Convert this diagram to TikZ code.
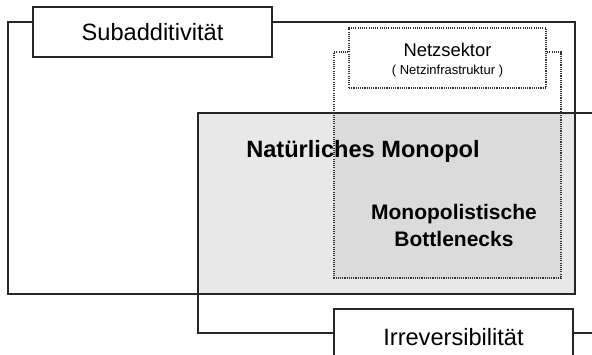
\documentclass[tikz,border=0pt]{standalone}
\usepackage{fontspec}
\setmainfont{Liberation Sans}
\begin{document}
\begin{tikzpicture}[x=1pt,y=-1pt,
  frameline/.style={line width=1.3pt,draw=black!85},
  dotline/.style={line width=1.2pt,draw=black!80,dash pattern=on 1.1pt off 1.1pt},
  labelbox/.style={draw=black!85,line width=1.3pt,fill=white,minimum width=239pt,inner sep=0pt,text=black},
  netzbox/.style={draw=black!80,line width=1.2pt,dash pattern=on 1.1pt off 1.1pt,fill=white,minimum width=197pt,minimum height=60pt,inner sep=0pt},
  bigtxt/.style={font=\fontsize{23.6}{28}\selectfont},
  boldtxt/.style={font=\bfseries\fontsize{23.6}{28}\selectfont},
  midbold/.style={font=\bfseries\fontsize{21}{27}\selectfont,align=center},
]
\useasboundingbox (0,0) rectangle (592,355);
\clip (0,0) rectangle (592,355);
% fills
\fill[black!9] (198,113) rectangle (575,294);
\fill[black!14] (334,113) rectangle (561,278);
% label nodes
\node[labelbox,minimum height=50pt,bigtxt] (sub) at (152.5,32) {Subadditivität};
\node[netzbox] (netz) at (447.5,58) {};
\node[font=\fontsize{18.4}{20}\selectfont] (netzt) at (447.5,50) {Netzsektor};
\node[font=\fontsize{13}{15}\selectfont] (netzs) at (447.5,71) {( Netzinfrastruktur )};
\node[labelbox,minimum height=56pt,bigtxt] (irr) at (453.5,337) {Irreversibilität};
\node[boldtxt] (nm) at (363,151) {Natürliches Monopol};
\node[midbold] (mb) at (454,225) {Monopolistische\\Bottlenecks};
% coordinates of frames
\coordinate (subL) at (8,22);
\coordinate (subBL) at (8,294);
\coordinate (subBR) at (575,294);
\coordinate (subR) at (575,22);
\coordinate (netzL) at (334,52);
\coordinate (netzBL) at (334,278);
\coordinate (netzBR) at (561,278);
\coordinate (netzR) at (561,52);
\coordinate (irrTL) at (198,113);
\coordinate (irrTR) at (600,113);
\coordinate (irrBL) at (198,333);
\coordinate (irrBR) at (600,333);
% Subadditivität frame
\draw[frameline] (sub.west |- subL) -- (subL) -- (subBL) -- (subBR) -- (subR) -- (sub.east |- subR);
% Irreversibilität frame
\draw[frameline] (irr.west |- irrBL) -- (irrBL) -- (irrTL) -- (irrTR);
\draw[frameline] (irr.east |- irrBR) -- (irrBR);
% Netzsektor frame
\draw[dotline] (netz.west |- netzL) -- (netzL) -- (netzBL) -- (netzBR) -- (netzR) -- (netz.east |- netzR);
\end{tikzpicture}
\end{document}
